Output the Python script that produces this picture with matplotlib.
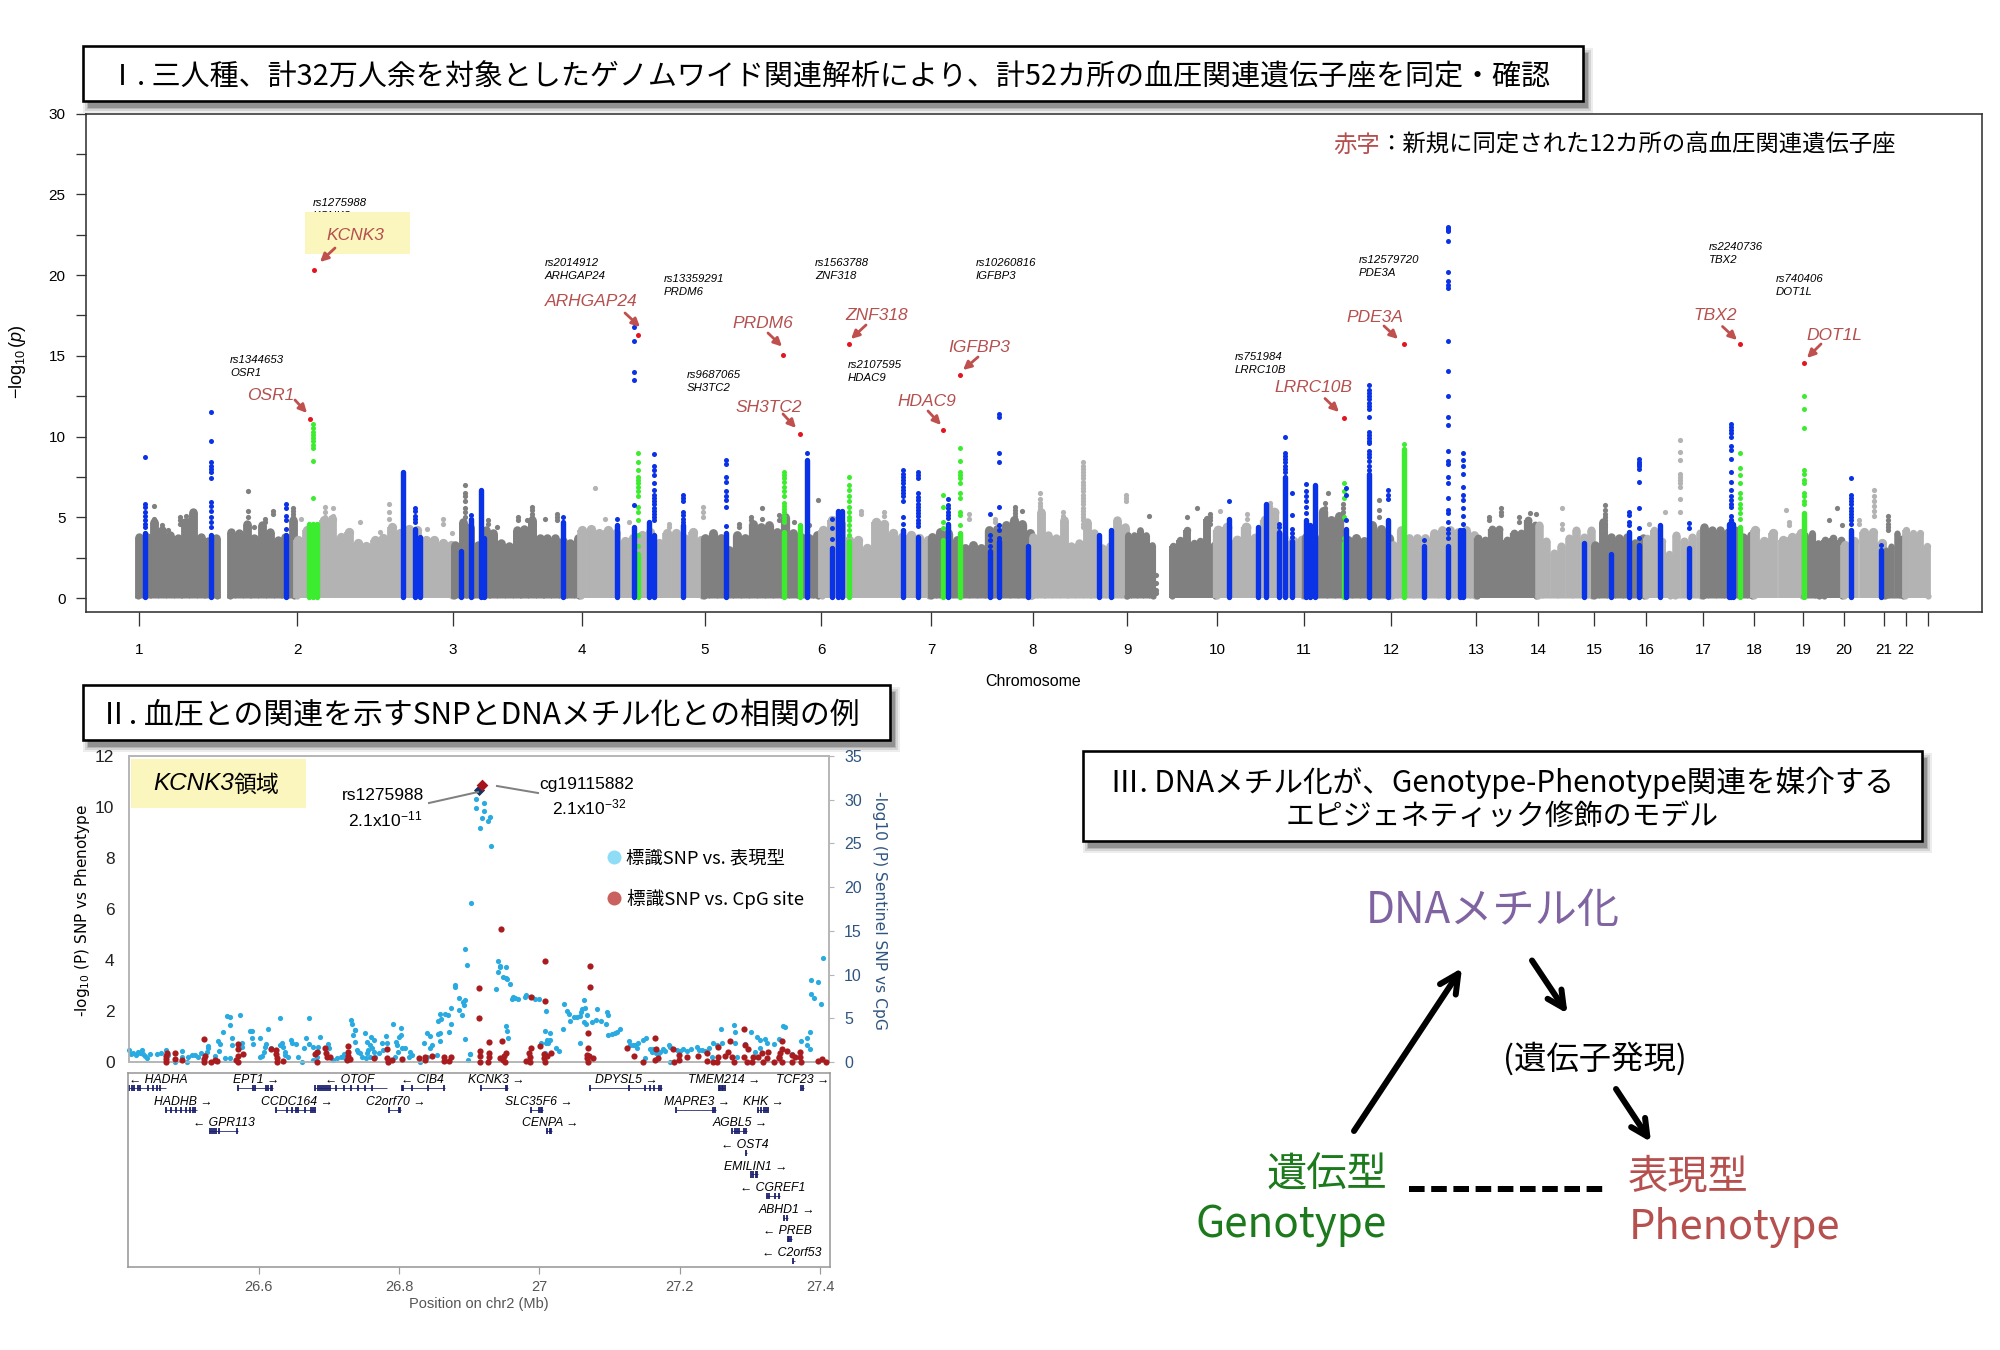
"""Blood pressure GWAS figure: Manhattan plot, KCNK3 regional plot and mediation model."""

import matplotlib
matplotlib.use("Agg")
import matplotlib.pyplot as plt
import numpy as np
from matplotlib.patches import Rectangle

LATIN = "Liberation Sans"
CJK = ["Noto Sans CJK JP", "DejaVu Sans"]

plt.rcParams["font.family"] = LATIN
plt.rcParams["mathtext.fontset"] = "custom"
plt.rcParams["mathtext.rm"] = "Liberation Sans"
plt.rcParams["mathtext.it"] = "Liberation Sans:italic"
plt.rcParams["mathtext.default"] = "regular"

# ---------- Manhattan data (x = cumulative genome position, plot units) ----------
chrom_labels = [str(i) for i in range(1, 23)]
chrom_ticks = [0, 158, 314, 443, 566, 682, 792, 894, 988, 1078, 1165, 1252, 1337, 1399,
               1455, 1507, 1564, 1615, 1664, 1705, 1745, 1767]
chrom_end = 1789

# envelope of the grey SNP cloud: (start, end, shade, top values)
seg_start = [-2, 90, 157, 314, 441, 564, 682, 791, 892, 987, 1032, 1077, 1165, 1252, 1337,
             1398, 1454, 1506, 1535, 1563, 1614, 1664, 1684, 1704, 1745, 1765]
seg_end = [79, 156, 314, 441, 564, 680, 791, 893, 988, 1015, 1077, 1165, 1252, 1337, 1398,
           1454, 1506, 1532, 1563, 1614, 1664, 1681, 1704, 1745, 1765, 1790]
seg_dark = [1, 1, 0, 1, 0, 1, 0, 1, 0, 1, 1, 0, 1, 0, 1, 0, 1, 0, 0, 1, 0, 1, 1, 0, 1, 0]
seg_tops = [
    [4.0, 4.0, 4.9, 4.4, 4.1, 3.9, 4.9, 5.5, 4.0, 3.7, 3.9],
    [4.3, 4.2, 4.8, 3.9, 4.7, 4.3, 3.8, 4.0, 5.0],
    [3.8, 4.4, 4.0, 5.0, 5.1, 4.0, 4.3, 3.6, 3.4, 3.8, 3.9, 4.6, 4.2, 4.5, 4.4, 3.8, 3.8, 3.6, 3.5],
    [3.5, 4.9, 4.6, 3.5, 4.4, 4.2, 3.6, 3.4, 4.4, 4.5, 5.0, 3.9, 3.9, 3.9, 3.7, 3.6, 3.9],
    [4.4, 4.5, 4.2, 4.4, 4.2, 3.7, 3.9, 4.1, 4.3, 3.6, 4.2, 4.2, 3.9, 4.3, 3.8],
    [3.9, 4.2, 3.9, 3.2, 4.1, 3.9, 4.8, 4.6, 4.7, 4.3, 5.2, 4.2, 4.0, 3.9, 4.1],
    [4.4, 5.0, 4.8, 3.8, 3.8, 3.3, 4.9, 4.8, 4.2, 4.0, 4.1, 3.9, 3.8],
    [4.0, 4.3, 4.2, 3.8, 3.3, 3.5, 3.3, 4.4, 4.5, 4.7, 5.0, 4.8, 4.2],
    [4.0, 5.5, 4.1, 3.9, 5.0, 3.4, 3.6, 4.9, 4.2, 3.3, 3.4, 5.0, 4.6],
    [4.1, 4.1, 4.4, 4.1, 3.5],
    [3.4, 3.8, 4.4, 3.6, 3.7, 5.1, 3.5],
    [4.4, 4.6, 3.8, 4.6, 3.9, 5.0, 5.5, 4.0, 3.7, 3.8],
    [4.0, 4.0, 5.6, 5.0, 5.3, 3.8, 3.9, 3.7, 4.7, 4.5, 3.9],
    [3.5, 4.4, 3.9, 3.9, 3.9, 4.2, 4.4, 4.4, 4.3, 4.4, 4.1],
    [3.9, 3.8, 4.5, 4.5, 3.8, 4.2, 4.2, 5.0, 4.7],
    [4.7, 3.7, 3.0, 3.4, 3.9, 4.4, 4.0, 4.4],
    [3.5, 4.9, 4.0, 3.9, 4.0, 3.6, 3.9],
    [3.9, 4.4, 3.7, 2.9],
    [4.1, 3.7, 4.0, 4.2],
    [4.6, 4.4, 4.4, 4.3, 4.4, 4.0, 4.1],
    [4.4, 3.7, 4.2, 3.8, 4.0, 4.2],
    [4.1, 4.2, 3.6],
    [3.8, 3.9, 3.8],
    [3.5, 3.7, 4.3, 4.3, 3.6],
    [3.2, 3.4, 4.2, 3.9],
    [4.4, 4.2, 4.2, 3.4],
]

# isolated grey SNPs standing above the cloud
light_pos = [944, 987, 901, 924, 1541, 1735, 186, 194, 250, 456, 1647, 1423, 1526, 162, 564, 1131, 1108, 1081,
             221, 241, 288, 304, 313, 466, 490, 530, 722, 745, 830, 856, 1510, 1650, 1720]
light_vals = [
    [8.4, 8.2, 8.0, 7.8, 7.6, 7.4, 7.2, 7.0, 6.8, 6.6, 6.4, 6.2, 6.0, 5.8, 5.6, 5.4, 5.2, 5.0, 4.8, 4.6, 4.4],
    [6.4, 6.2, 6.0], [6.5, 6.1, 5.9, 5.7, 5.5, 5.3, 5.1, 4.9], [5.3, 5.1, 4.9, 4.7, 4.5],
    [9.8, 9.05, 8.55, 7.7, 7.5, 7.3, 7.1, 6.9, 6.15, 5.3], [6.7, 6.3, 6.0, 5.7, 5.4, 5.1],
    [5.65, 5.35, 5.0, 4.8], [5.55, 5.1, 4.8], [5.85, 5.35, 4.9], [6.8], [5.45], [5.6, 4.6, 4.3], [5.35],
    [4.9], [5.65, 5.35, 5.0], [5.9, 5.7, 5.5, 5.3], [5.2, 4.9], [5.4],
    [4.7], [4.1], [4.3], [4.9, 4.6], [4.0], [4.9], [4.7], [4.6, 4.4], [5.4, 5.2], [5.3, 5.1], [5.2, 4.9],
    [4.9, 4.7], [4.6], [4.7, 4.5], [4.8, 4.6],
]
dark_pos = [109, 15, 326, 393, 679, 623, 640, 876, 883, 1240, 1204, 1186, 1189, 1362, 1466, 1749, 1690,
            1698, 1703, 1397, 1391, 1058, 1071, 1048, 1010, 1017,
            41, 47, 50, 23, 29, 115, 126, 134, 154, 349, 358, 379, 388, 406, 418, 600, 612, 655, 670, 1350, 1380]
dark_vals = [
    [6.6, 5.4, 5.0], [5.7, 4.9, 4.7], [7.0, 6.5, 6.3, 6.0, 5.6, 5.3, 5.0], [5.65, 5.45, 5.2, 5.0], [6.05],
    [5.55, 4.9], [5.15, 4.8], [5.65, 5.45, 5.25, 5.05, 4.85, 4.65], [5.4], [6.05, 5.45, 5.0],
    [5.85, 5.6, 5.3, 5.1, 4.9], [5.9, 5.6, 5.3, 5.0], [6.5], [5.55, 5.35, 5.15],
    [5.75, 5.45, 5.2, 5.0, 4.8, 4.6, 4.4, 4.1], [5.1, 4.8, 4.6, 4.4, 4.2], [4.8], [5.55], [4.55], [5.2], [5.25],
    [5.6], [5.2, 5.0, 4.8, 4.6], [5.0], [5.1], [1.4, 0.9, 0.5, 0.3],
    [5.0, 4.8, 4.6], [5.1], [4.8], [4.5, 4.3], [4.2], [4.4], [4.9, 4.7], [5.4, 5.2], [5.6, 5.4, 5.2, 5.0, 4.8],
    [4.8, 4.6], [4.4], [5.0, 4.8], [4.8], [4.9], [5.2, 5.0, 4.8], [4.6, 4.4], [5.0, 4.8], [4.7], [4.5], [5.0, 4.8],
    [5.0, 4.7],
]

# known loci (blue): position, solid column top, separate SNPs above it
blue_pos = [6, 72, 147, 264, 276, 281, 322, 332, 342, 345, 424, 478, 495, 510, 515, 544, 587, 668, 693, 699,
            703, 764, 779, 809, 851, 860, 889, 960, 972, 1090, 1119, 1127, 1140, 1146, 1153, 1167, 1171, 1176,
            1207, 1230, 1249, 1285, 1309, 1321, 1324, 1445, 1472, 1490, 1500, 1521, 1550, 1590, 1592, 1594,
            1712, 1742]
blue_tops = [4.0, 3.9, 3.9, 7.8, 4.3, 3.8, 2.9, 4.9, 6.7, 3.7, 4.7, 4.5, 4.4, 4.7, 3.9, 4.5, 4.0, 8.55, 3.1, 5.4,
             5.4, 4.2, 3.8, 4.6, 2.9, 3.5, 3.2, 3.9, 4.2, 4.9, 4.4, 5.85, 4.1, 7.5, 3.5, 4.8, 4.5, 7.0,
             4.3, 7.7, 4.8, 3.2, 3.2, 4.2, 4.2, 3.4, 2.7, 4.1, 3.3, 4.5, 3.1, 4.6, 4.8, 4.6,
             4.2, 3.0]
blue_dots = [
    [8.7, 5.85, 5.65, 5.35, 5.1, 4.8, 4.6, 4.4],
    [11.5, 9.7, 8.4, 8.2, 8.0, 7.8, 7.4, 5.95, 5.7, 5.4, 5.0, 4.7, 4.4],
    [5.85, 5.55, 5.1, 4.8, 4.3],
    [], [5.55, 5.4, 5.1, 4.9, 4.7], [], [], [5.15], [], [], [5.0], [4.9],
    [16.8, 15.9, 14.0, 13.5, 5.75], [],
    [8.9, 8.2, 7.9, 7.6, 7.1, 6.7, 6.4, 6.2, 6.0, 5.8, 5.6, 5.4, 5.2, 5.0, 4.8],
    [6.4, 6.2, 6.0, 5.35, 5.15, 4.9, 4.7],
    [8.55, 8.3, 7.5, 7.2, 6.6, 6.3, 6.05, 5.65, 4.45],
    [8.95], [4.9, 4.35, 3.65], [], [],
    [7.9, 7.7, 7.5, 7.3, 7.1, 6.9, 6.7, 6.5, 6.3, 6.0, 5.0, 4.6],
    [7.8, 7.6, 7.4, 6.5, 6.25, 6.05, 5.85, 5.65, 5.45, 5.25, 5.05, 4.85, 4.65, 4.45],
    [6.15, 5.75, 5.55, 5.35, 5.15, 4.95],
    [5.2, 3.9, 3.6, 3.2],
    [11.4, 11.2, 9.0, 8.4, 5.65, 4.5, 4.2, 3.7],
    [], [], [], [6.0], [], [], [4.6, 4.4],
    [9.95, 8.96, 8.8, 8.6, 8.4, 8.2, 8.0, 7.8],
    [6.5, 5.15, 4.3, 4.0, 3.8],
    [7.05, 6.6, 6.3, 6.0, 5.65, 5.25], [], [],
    [6.8, 6.4, 4.8],
    [13.2, 12.9, 12.7, 12.5, 12.3, 12.1, 11.9, 11.7, 11.2, 10.3, 10.1, 9.9, 9.7, 9.6, 9.1, 8.9, 8.7, 8.5, 8.2, 7.9],
    [6.7, 6.4, 6.1],
    [3.6],
    [23.0, 22.9, 22.8, 22.7, 22.1, 20.2, 19.6, 19.4, 19.2, 15.9, 14.05, 12.5, 11.2, 10.7, 9.1, 8.5, 8.3, 7.5, 7.1,
     6.2, 5.45, 5.25, 4.7, 4.3, 4.0, 3.7],
    [],
    [9.0, 8.55, 8.15, 7.7, 6.9, 6.4, 6.05, 5.55, 5.05, 4.6],
    [], [], [5.35, 5.15, 4.7, 4.5],
    [8.6, 8.45, 8.3, 8.15, 8.0, 7.2, 5.55, 4.35, 3.7],
    [], [4.65, 4.35], [],
    [10.8, 10.6, 10.4, 10.2, 10.0, 9.4, 9.15, 8.6, 7.8, 7.2, 6.7, 6.3, 6.05, 5.85, 5.65, 5.1],
    [],
    [7.4, 6.4, 6.2, 6.0, 5.8, 5.6, 5.4, 5.2, 5.0, 4.8, 4.6],
    [3.3],
]

# newly confirmed loci (green)
green_pos = [170, 174, 178, 499, 645, 661, 710, 804, 821, 1205, 1265, 1601, 1665]
green_tops = [4.6, 4.6, 4.6, 2.7, 4.1, 4.5, 3.5, 3.6, 4.0, 3.4, 9.2, 4.4, 5.25]
green_dots = [
    [], [10.8, 10.5, 10.3, 10.1, 9.9, 9.7, 9.5, 9.3, 8.5, 6.2], [],
    [9.0, 8.45, 7.9, 7.5, 7.3, 7.1, 6.9, 6.6, 6.3, 5.65, 5.35, 4.8, 3.9, 3.2],
    [7.8, 7.6, 7.4, 7.2, 6.9, 6.6, 6.3, 5.9, 5.7, 5.5, 5.3, 5.1, 4.9, 4.7],
    [],
    [7.5, 7.0, 6.7, 6.3, 6.0, 5.65, 5.35, 5.0, 4.8, 4.5, 4.2, 3.9],
    [6.4, 5.65, 4.7, 4.35],
    [9.3, 8.5, 7.8, 7.6, 7.4, 7.1, 6.5, 6.2, 5.35, 5.15, 4.5],
    [7.1, 6.6, 6.2, 5.0, 3.7],
    [9.55],
    [9.0, 8.05, 7.6, 7.1, 6.5, 6.2, 5.85, 5.55, 5.25, 4.9],
    [12.5, 11.7, 10.5, 7.9, 7.7, 7.3, 7.1, 6.5, 6.3, 6.0, 5.8],
]

# sentinel SNPs of the 12 new loci
red_pos = [175, 171, 499, 644, 710, 661, 804, 821, 1205, 1265, 1601, 1665]
red_vals = [20.3, 11.1, 16.3, 15.05, 15.7, 10.15, 10.4, 13.8, 11.15, 15.7, 15.7, 14.55]

# ---------- KCNK3 regional data ----------
pheno_x = [26.415, 26.418, 26.421, 26.424, 26.427, 26.430, 26.433, 26.435, 26.438, 26.441, 26.445, 26.455, 26.461,
           26.467, 26.471, 26.480, 26.491, 26.490, 26.497, 26.499, 26.504, 26.509, 26.513, 26.518, 26.526, 26.527,
           26.528, 26.523, 26.542, 26.545, 26.543, 26.538, 26.549, 26.554, 26.559, 26.559, 26.562, 26.562, 26.573,
           26.576, 26.576, 26.552, 26.559, 26.587, 26.590, 26.590, 26.592, 26.602, 26.613, 26.602, 26.605, 26.607,
           26.609, 26.611, 26.618, 26.630, 26.630, 26.633, 26.635, 26.637, 26.638, 26.642, 26.646, 26.647, 26.653,
           26.656, 26.661, 26.665, 26.667, 26.672, 26.671, 26.678, 26.684, 26.688, 26.685, 26.683, 26.699, 26.700,
           26.678, 26.706, 26.711, 26.718, 26.721, 26.723, 26.731, 26.733, 26.737, 26.734, 26.738, 26.738, 26.740,
           26.742, 26.745, 26.747, 26.751, 26.755, 26.760, 26.764, 26.759, 26.761, 26.756, 26.764, 26.754, 26.759,
           26.753, 26.766, 26.776, 26.781, 26.783, 26.778, 26.771, 26.792, 26.796, 26.800, 26.803, 26.803, 26.798,
           26.804, 26.809, 26.799, 26.795, 26.816, 26.818, 26.814, 26.830, 26.836, 26.840, 26.845, 26.847, 26.845,
           26.840, 26.854, 26.856, 26.859, 26.859, 26.856, 26.859, 26.860, 26.866, 26.870, 26.875, 26.875, 26.871,
           26.880, 26.880, 26.886, 26.886, 26.890, 26.892, 26.893, 26.894, 26.895, 26.902, 26.899,
           26.903, 26.895, 26.897, 26.910, 26.921, 26.910, 26.922, 26.918, 26.930, 26.927, 26.916, 26.932,
           26.902, 26.941, 26.945, 26.945, 26.953, 26.942, 26.949, 26.953, 26.955, 26.958, 26.938, 26.961, 26.963,
           26.966, 26.970, 26.980, 26.982, 26.990, 26.994, 27.000, 27.010, 27.008, 27.016, 27.015, 27.012, 27.013,
           27.010, 27.003, 26.953, 26.955, 26.956, 27.009, 27.024, 27.029, 27.034, 27.036, 27.040, 27.043, 27.044,
           27.050, 27.054, 27.058, 27.060, 27.062, 27.066, 27.064, 27.068, 27.064, 27.067, 27.059, 27.076, 27.082,
           27.083, 27.088, 27.095, 27.097, 27.098, 27.099, 27.104, 27.109, 27.112, 27.116, 27.129, 27.130, 27.134,
           27.137, 27.140, 27.142, 27.148, 27.153, 27.151, 27.158, 27.161, 27.163, 27.167, 27.170, 27.173, 27.177,
           27.180, 27.185, 27.187, 27.187, 27.197, 27.201, 27.206, 27.211, 27.217, 27.225, 27.228, 27.232, 27.237,
           27.243, 27.247, 27.249, 27.260, 27.261, 27.254, 27.278, 27.280, 27.280, 27.282, 27.294, 27.302, 27.311,
           27.316, 27.309, 27.316, 27.323, 27.325, 27.336, 27.342, 27.348, 27.351, 27.361, 27.374, 27.383, 27.387,
           27.382, 27.387, 27.389, 27.398, 27.389, 27.393, 27.402, 27.406]
pheno_y = [.47, .31, .37, .27, .41, .34, .47, .31, .24, .14, .31, .31, .34,
           .47, .27, .01, .43, .21, .01, .21, .27, .27, .21, .37, .41, .63,
           .54, .27, .84, .71, .43, .24, 1.19, 1.82, 1.78, 1.45, .93, .67, 1.84,
           .73, .60, .14, .14, 1.23, 1.22, .93, .69, .95, 1.31, .21, .24, .41,
           .60, .71, .54, 1.71, .67, .73, .58, .41, .27, .18, .86, .73, .71,
           .18, .01, .54, .95, 1.71, .69, .58, .60, .99, .41, .21, .71, .54,
           .08, .08, .14, .21, .31, .14, 1.65, 1.49, 1.25, 1.06, 1.25, .77, .47,
           .41, .34, .21, 1.15, .80, .97, .86, .67, .54, .47, .41, .34, .21,
           .14, .21, .73, 1.03, .73, .47, .34, 1.48, .80, .97, 1.35, 1.06, .67,
           .54, .54, .41, .21, .41, .27, .18, .01, .73, 1.12, 1.03, .67, .54,
           .21, .27, 1.10, 1.12, .84, 1.62, 1.88, 1.67, 1.87, 1.86, 1.49, 2.10, 1.19,
           3.02, 2.93, 2.50, 2.04, 1.84, 2.37, 2.24, 2.43, .90, .30, .08,
           6.23, 4.43, 3.79, 10.33, 10.16, 9.97, 9.84, 9.58, 9.61, 9.44, 9.18, 8.46,
           .30, 3.97, 3.78, 3.71, 3.71, 3.52, 3.32, 3.28, 3.24, 3.07, 2.85, 2.47, 2.54,
           2.50, 2.48, 2.54, 2.63, 2.54, 2.47, 2.47, 1.99, 1.23, 1.12, .86, .86, .76,
           .76, .76, 1.41, 1.23, .95, .34, .54, .43, 1.29, 2.26, 2.01, 1.87, 1.61,
           1.78, 1.75, 1.80, 1.97, 2.07, 2.10, 2.43, 1.84, 1.58, 1.48, .73, 1.56, 1.65,
           2.07, 1.61, 1.50, 1.95, 1.84, 1.07, 1.10, 1.12, 1.19, 1.29, .84, .67, .67,
           .67, .56, .73, .86, .95, .17, .50, .41, .50, .37, .31, .41, .51,
           .43, .67, .60, .01, .47, .44, .50, .44, .50, .60, .47, .47, .43,
           .54, .21, .76, 1.29, .73, .67, 1.46, 1.16, .73, .21, .69, 1.16, .99,
           .86, .38, .54, .90, .73, .69, .89, 1.41, 1.39, .31, .84, .95, 1.16,
           .67, .51, 3.20, 3.12, 2.67, 2.50, 2.27, 4.07]

cpg_x = [26.469, 26.468, 26.467, 26.468, 26.481, 26.481, 26.491, 26.522, 26.523, 26.522, 26.522, 26.532, 26.538,
         26.541, 26.570, 26.570, 26.570, 26.568, 26.571, 26.578, 26.617, 26.624, 26.624, 26.626, 26.626, 26.635,
         26.683, 26.680, 26.683, 26.695, 26.696, 26.697, 26.702, 26.727, 26.727, 26.727, 26.726, 26.730, 26.765,
         26.783, 26.783, 26.785, 26.790, 26.804, 26.828, 26.837, 26.837, 26.847, 26.864, 26.865, 26.871, 26.875,
         26.915, 26.915, 26.916, 26.916, 26.916, 26.928, 26.929, 26.928, 26.927, 26.947, 26.953, 26.950, 26.944,
         26.949, 26.951, 26.989, 26.986, 26.987, 26.982, 26.987, 27.001, 27.009, 26.946, 27.009, 26.988, 27.007,
         27.007, 27.011, 27.009, 27.017, 27.070, 27.073, 27.073, 27.070, 27.069, 27.072, 27.068, 27.077, 27.070,
         27.125, 27.136, 27.149, 27.166, 27.167, 27.170, 27.166, 27.192, 27.200, 27.200, 27.193, 27.212, 27.227,
         27.240, 27.240, 27.256, 27.256, 27.254, 27.249, 27.265, 27.273, 27.270, 27.275, 27.278, 27.293, 27.294,
         27.299, 27.292, 27.297, 27.306, 27.304, 27.312, 27.318, 27.327, 27.325, 27.320, 27.335, 27.342, 27.347,
         27.347, 27.344, 27.342, 27.347, 27.354, 27.361, 27.361, 27.366, 27.373, 27.372, 27.374, 27.399, 27.404,
         27.410]
cpg_y = [1.07, .69, .31, 0, 1.07, .31, .23, 2.63, .69, .31, 0, .04, .23,
         .11, 2.06, 1.45, .69, .23, .04, .88, 1.45, 1.37, .92, .42, .04, .11,
         1.18, .92, .04, 1.56, 1.07, .61, .61, 1.83, 1.18, .69, .23, .31, .42,
         1.45, .42, .04, .23, .31, .42, .61, .23, .69, .53, .11, .11, .61,
         8.44, 5.0, 1.26, .69, 0, 2.29, 1.07, .53, 0, 2.40, 1.07, .69, .42,
         .23, 0, 1.56, 1.07, .53, .11, .04, 1.87, 11.6, 15.2, 6.98, 7.40, .92,
         .42, .69, .04, .99, 3.28, 11.03, 8.55, 1.64, .80, .69, .42, .42, .04,
         1.64, .69, .04, 2.71, 1.45, .50, .23, 1.45, .80, .23, .04, .57, .69,
         .99, .15, 1.76, .53, .04, 0, .69, 2.40, 1.18, .61, 0, 3.74, 1.95,
         1.45, .53, .04, .53, .04, .61, .99, 1.18, .42, .04, .04, .61, 2.40,
         1.45, .99, .42, .04, 1.26, .80, .04, .61, 1.18, .61, .04, .15, .31,
         .04]

lead_snp = (26.914, 10.68)
lead_cpg = (26.918, 31.7)

# gene track
gene_names = ["HADHA", "EPT1", "OTOF", "CIB4", "KCNK3", "DPYSL5", "TMEM214", "TCF23",
              "HADHB", "CCDC164", "C2orf70", "SLC35F6", "MAPRE3", "KHK",
              "GPR113", "CENPA", "AGBL5", "OST4", "EMILIN1", "CGREF1", "ABHD1", "PREB", "C2orf53"]
gene_rows = [0, 0, 0, 0, 0, 0, 0, 0, 1, 1, 1, 1, 1, 1, 2, 2, 2, 3, 4, 5, 6, 7, 8]
gene_start = [26.415, 26.569, 26.680, 26.804, 26.916, 27.071, 27.255, 27.372,
              26.467, 26.624, 26.785, 26.987, 27.194, 27.310,
              26.530, 27.010, 27.274, 27.293, 27.301, 27.323, 27.347, 27.353, 27.360]
gene_end = [26.468, 26.620, 26.783, 26.865, 26.955, 27.175, 27.265, 27.377,
            26.513, 26.681, 26.803, 27.005, 27.251, 27.326,
            26.570, 27.018, 27.296, 27.296, 27.311, 27.343, 27.354, 27.360, 27.364]
gene_label = [26.457, 26.596, 26.730, 26.833, 26.938, 27.124, 27.263, 27.375,
              26.492, 26.654, 26.796, 26.999, 27.224, 27.319,
              26.550, 27.016, 27.286, 27.293, 27.308, 27.332, 27.352, 27.354, 27.360]
gene_forward = [0, 1, 0, 0, 1, 1, 1, 1, 1, 1, 1, 1, 1, 1, 0, 1, 1, 0, 1, 0, 1, 0, 0]
gene_exons = [
    [26.416, 26.419, 26.423, 26.428, 26.431, 26.442, 26.450, 26.455, 26.460],
    [26.570, 26.592, 26.595, 26.611, 26.614, 26.617, 26.619],
    [26.681, 26.684, 26.687, 26.690, 26.693, 26.696, 26.699, 26.702, 26.711, 26.721, 26.731, 26.741, 26.751, 26.761],
    [26.805, 26.806, 26.818, 26.842, 26.864],
    [26.917, 26.953, 26.954],
    [27.072, 27.127, 27.151, 27.157, 27.163, 27.170, 27.173],
    [27.256, 27.258, 27.260, 27.262, 27.264],
    [27.373, 27.376],
    [26.468, 26.475, 26.482, 26.490, 26.496, 26.502, 26.506, 26.510],
    [26.625, 26.640, 26.647, 26.654, 26.656, 26.666, 26.674, 26.678, 26.680],
    [26.786, 26.800, 26.802],
    [26.988, 27.000, 27.002, 27.004],
    [27.195, 27.248, 27.250],
    [27.311, 27.316, 27.320, 27.323, 27.325],
    [26.531, 26.534, 26.537, 26.540, 26.543, 26.569],
    [27.011, 27.015, 27.017],
    [27.275, 27.278, 27.281, 27.284, 27.292, 27.295],
    [27.295],
    [27.302, 27.305, 27.308, 27.310],
    [27.324, 27.327, 27.335, 27.342],
    [27.348, 27.353],
    [27.354, 27.356, 27.359],
    [27.362],
]

# rs id + gene annotations of the Manhattan panel
rs_names = ["rs1344653", "rs2014912", "rs13359291", "rs1563788", "rs9687065", "rs2107595", "rs10260816",
            "rs751984", "rs12579720", "rs2240736", "rs740406"]
rs_genes = ["OSR1", "ARHGAP24", "PRDM6", "ZNF318", "SH3TC2", "HDAC9", "IGFBP3", "LRRC10B", "PDE3A", "TBX2", "DOT1L"]
new_genes = ["KCNK3", "OSR1", "ARHGAP24", "PRDM6", "ZNF318", "SH3TC2", "HDAC9", "IGFBP3", "LRRC10B", "PDE3A",
             "TBX2", "DOT1L"]

# ---------- colours ----------
DARK = "#808080"
LIGHT = "#b3b3b3"
BLUE = "#0a32e6"
GREEN = "#3cec2e"
RED = "#e6141e"
LOCUS_RED = "#b5504f"
PANEL_BLUE = "#2f5580"
FRAME_GREY = "#b5b5b5"
YELLOW = "#fbf6bd"

W, H = 2000, 1350
fig = plt.figure(figsize=(W / 100, H / 100), dpi=100, facecolor="white")


def px(v):
    """Pixels to points."""
    return v * 0.72


def axes_px(x0, y0, x1, y1, **kw):
    return fig.add_axes([x0 / W, 1 - y1 / H, (x1 - x0) / W, (y1 - y0) / H], **kw)


def draw_column(ax, pos, top, dots, color, width=5.4, z=3):
    ax.vlines(pos, 0.05, top, color=color, lw=px(width), capstyle="round", zorder=z)
    if dots:
        ax.scatter([pos] * len(dots), dots, s=13, color=color, linewidths=0, zorder=z)


def draw_manhattan():
    ax = axes_px(85.5, 113.5, 1982, 612)
    ax.set_xlim(85.5 - 139, 1982 - 139)
    ax.set_ylim(-14 / 16.15, 30)

    for start, end, dark, tops in zip(seg_start, seg_end, seg_dark, seg_tops):
        color = DARK if dark else LIGHT
        xs = np.linspace(start + 2, end - 2, len(tops))
        tops = np.array(tops) - 0.2
        step = (end - start) / len(tops)
        ax.vlines(xs, 0, tops, color=color, lw=px(step + 1.5), zorder=1)
        ax.scatter(xs, tops, s=px(step + 1) ** 2, color=color, linewidths=0, zorder=1)
        ax.scatter([start + 1, end - 1], [0.1, 0.1], s=20, color=color, linewidths=0, zorder=1)

    for pos, vals in zip(light_pos, light_vals):
        ax.scatter([pos] * len(vals), vals, s=14, color=LIGHT, linewidths=0, zorder=1)
    for pos, vals in zip(dark_pos, dark_vals):
        ax.scatter([pos] * len(vals), vals, s=14, color=DARK, linewidths=0, zorder=1)

    for pos, top, dots in zip(blue_pos, blue_tops, blue_dots):
        draw_column(ax, pos, top, dots, BLUE)
    for pos, top, dots in zip(green_pos, green_tops, green_dots):
        draw_column(ax, pos, top, dots, GREEN, z=2.5)
    ax.scatter(red_pos, red_vals, s=13, color=RED, linewidths=0, zorder=4)

    ax.set_yticks(range(0, 31, 5))
    ax.set_yticks(np.arange(0, 30, 2.5), minor=True)
    ax.set_xticks(chrom_ticks + [chrom_end])
    ax.set_xticklabels(chrom_labels + [""])
    ax.tick_params(axis="y", which="both", length=px(10), width=px(1.3), labelsize=11, pad=px(10), color="#333333")
    ax.tick_params(axis="x", length=px(14), width=px(1.3), labelsize=11, pad=px(17), color="#333333")
    for spine in ax.spines.values():
        spine.set_linewidth(px(1.6))
        spine.set_color("#333333")
    fig.text(1033 / W, 1 - 681 / H, "Chromosome", ha="center", va="center", fontsize=11.5)
    fig.text(17 / W, 1 - 362 / H, r"$-\log_{10}(\mathit{p})$", rotation=90, ha="center", va="center", fontsize=13)


def draw_regional():
    ax = axes_px(128.5, 756, 829, 1062)
    ax.set_xlim(26.414, 27.414)
    ax.set_ylim(0, 12)
    ax.set_xticks([])
    ax.set_yticks(range(0, 13, 2))
    ax.tick_params(axis="y", length=0, labelsize=12.5, pad=px(14), labelcolor="#222222")
    ax.scatter(pheno_x, pheno_y, s=14, color="#29abe2", linewidths=0, zorder=3, clip_on=False)
    ax.scatter(*lead_snp, s=32, marker="D", color="#16305f", linewidths=0, zorder=5)

    ax2 = ax.twinx()
    ax2.set_ylim(0, 35)
    ax2.set_yticks(range(0, 36, 5))
    ax2.tick_params(axis="y", length=px(5), labelsize=11.5, pad=px(10), labelcolor=PANEL_BLUE, color=FRAME_GREY)
    ax2.scatter(cpg_x, cpg_y, s=20, color="#a81c1f", linewidths=0, zorder=4, clip_on=False)
    ax2.scatter(*lead_cpg, s=36, marker="D", color="#a8141c", linewidths=0, zorder=6)
    for a in (ax, ax2):
        for spine in a.spines.values():
            spine.set_linewidth(px(1.6))
            spine.set_color(FRAME_GREY)

    fig.text(83 / W, 1 - 910 / H, "-log$_{10}$ (P) SNP vs Phenotype", rotation=90, ha="center", va="center",
             fontsize=11, family="DejaVu Sans")
    fig.text(880 / W, 1 - 910 / H, "-log10 (P) Sentinel SNP vs CpG", rotation=270, ha="center", va="center",
             fontsize=11.2, family="DejaVu Sans", color=PANEL_BLUE)

    track = axes_px(128, 1072.7, 830, 1267)
    track.set_xlim(26.414, 27.414)
    track.set_ylim(8.28, -0.71)
    track.set_yticks([])
    track.set_xticks([26.6, 26.8, 27.0, 27.2, 27.4])
    track.set_xticklabels(["26.6", "26.8", "27", "27.2", "27.4"])
    track.tick_params(axis="x", length=px(7), width=px(1.2), color="#999999", labelsize=10.5, labelcolor="#555555", pad=px(6))
    track.set_xlabel("Position on chr2 (Mb)", fontsize=10.5, color="#555555", labelpad=px(3))
    for spine in track.spines.values():
        spine.set_linewidth(px(1.6))
        spine.set_color("#999999")
    for name, row, start, end, label, fwd, exons in zip(gene_names, gene_rows, gene_start, gene_end, gene_label,
                                                         gene_forward, gene_exons):
        track.hlines(row, start, end, color="#4a4f8c", lw=px(1))
        track.vlines(exons, row - 0.14, row + 0.14, color="#1a1f6e", lw=px(1.8))
        text = f"{name} \u2192" if fwd else f"\u2190 {name}"
        track.text(label, row - 0.37, text, ha="center", va="center", style="italic", fontsize=8.8)


def title_box(ov, x0, y0, x1, y1):
    for grow, alpha in zip([5, 3, 1, 0], [0.07, 0.1, 0.14, 0.2]):
        ov.add_patch(Rectangle((x0 + 5 - grow, y0 + 7 - grow), x1 - x0 + 2 * grow, y1 - y0 + 2 * grow,
                               color="black", alpha=alpha, lw=0, zorder=1))
    ov.add_patch(Rectangle((x0, y0), x1 - x0, y1 - y0, facecolor="white", edgecolor="black", lw=px(2.6), zorder=2))


def arrow(ov, start, end, color, lw, scale, style="-|>"):
    ov.annotate("", xy=end, xytext=start, zorder=8,
                arrowprops=dict(arrowstyle=style, color=color, lw=lw, mutation_scale=scale, shrinkA=0, shrinkB=0))


def draw_overlay():
    ov = fig.add_axes([0, 0, 1, 1], facecolor="none")
    ov.set_xlim(0, W)
    ov.set_ylim(H, 0)
    ov.axis("off")

    # panel headers
    title_box(ov, 83, 46, 1583, 101)
    ov.text(829, 77, "\u2160. 三人種、計32万人余を対象としたゲノムワイド関連解析により、計52カ所の血圧関連遺伝子座を同定・確認",
            ha="center", va="center", fontsize=20.9, family=CJK, zorder=3)
    title_box(ov, 83, 685, 890, 740)
    ov.text(479, 715, "\u2161. 血圧との関連を示すSNPとDNAメチル化との相関の例", ha="center", va="center",
            fontsize=21.5, family=CJK, zorder=3)
    title_box(ov, 1083, 751, 1922, 841)
    ov.text(1502, 783, "\u2162. DNAメチル化が、Genotype-Phenotype関連を媒介する", ha="center", va="center",
            fontsize=21.3, family=CJK, zorder=3)
    ov.text(1502, 817, "エピジェネティック修飾のモデル", ha="center", va="center", fontsize=20.8, family=CJK, zorder=3)

    ov.text(1333, 145, "赤字", color=LOCUS_RED, ha="left", va="center", fontsize=16.8, family=CJK)
    ov.text(1379, 145, "：新規に同定された12カ所の高血圧関連遺伝子座", ha="left", va="center", fontsize=16.8, family=CJK)

    # rs ids
    rs_x = [230, 545, 664, 815, 687, 848, 976, 1235, 1359, 1708.5, 1775.5]
    rs_y = [360, 263, 279, 263, 375, 365, 263, 357, 260, 247, 279]
    for name, gene, x, y in zip(rs_names, rs_genes, rs_x, rs_y):
        ov.text(x, y, name, style="italic", fontsize=8.2, ha="left", va="center")
        ov.text(x, y + 13, gene, style="italic", fontsize=8.2, ha="left", va="center")
    ov.text(313, 203, "rs1275988", style="italic", fontsize=8.2, ha="left", va="center")
    ov.text(313, 216, "KCNK3", style="italic", fontsize=8.2, ha="left", va="center", zorder=1)
    ov.add_patch(Rectangle((305, 212), 105, 42, color=YELLOW, lw=0, zorder=2))

    # new loci labels and arrows
    lab_x = [326, 247, 545, 732, 845, 736, 897, 948, 1274, 1346, 1693, 1806]
    lab_y = [235.5, 395.5, 301, 323, 316, 407, 401, 347, 387, 317, 316, 335]
    arrow_from = [(335, 248), (295, 400), (625, 313), (768, 333), (866, 325), (783, 414), (928, 411), (978, 357),
                  (1325, 398.5), (1384, 326), (1722.5, 326.5), (1821, 344)]
    arrow_to = [(320, 262), (307, 413), (640, 327), (782, 346.5), (851, 339), (796, 428), (941, 425), (963, 370),
                (1339, 412), (1398, 339), (1737, 340), (1807, 358)]
    for gene, x, y, a, b in zip(new_genes, lab_x, lab_y, arrow_from, arrow_to):
        ov.text(x, y, gene, color=LOCUS_RED, style="italic", fontsize=12.5, ha="left", va="center", zorder=5)
        arrow(ov, a, b, "#c0504d", 2, 12)

    # regional panel annotations
    ov.add_patch(Rectangle((131, 759), 175, 49, color=YELLOW, lw=0, zorder=2))
    ov.text(153, 784, "KCNK3", style="italic", fontsize=17.5, ha="left", va="center", zorder=3)
    ov.text(234, 785, "領域", fontsize=16.5, ha="left", va="center", family=CJK, zorder=3)
    ov.text(383, 796, "rs1275988", fontsize=12.5, ha="center", va="center")
    ov.text(385, 819, "2.1x10$^{-11}$", fontsize=12.5, ha="center", va="center")
    ov.text(587, 784, "cg19115882", fontsize=12.5, ha="center", va="center")
    ov.text(589, 807, "2.1x10$^{-32}$", fontsize=12.5, ha="center", va="center")
    ov.plot([429, 478], [803, 792], color="#808080", lw=px(2))
    ov.plot([497, 538], [786, 793], color="#808080", lw=px(2))
    ov.scatter([614], [857], s=px(14) ** 2, color="#8fdcf7", linewidths=0)
    ov.scatter([614], [898], s=px(14) ** 2, color="#c9615e", linewidths=0)
    ov.text(626, 858, "標識SNP vs. 表現型", fontsize=13.2, ha="left", va="center", family=CJK)
    ov.text(627, 899, "標識SNP vs. CpG site", fontsize=13.4, ha="left", va="center", family=CJK)

    # mediation model
    ov.text(1493, 911, "DNAメチル化", color="#8064a2", fontsize=30.4, ha="center", va="center", family=CJK)
    ov.text(1595, 1059, "(遺伝子発現)", fontsize=23.3, ha="center", va="center", family=CJK)
    ov.text(1387, 1175, "遺伝型", color="#1c7a1c", fontsize=29, ha="right", va="center", family=CJK)
    ov.text(1387, 1225, "Genotype", color="#1c7a1c", fontsize=30.4, ha="right", va="center", family=CJK)
    ov.text(1628, 1177, "表現型", color=LOCUS_RED, fontsize=29, ha="left", va="center", family=CJK)
    ov.text(1629, 1227, "Phenotype", color=LOCUS_RED, fontsize=30, ha="left", va="center", family=CJK)
    arrow(ov, (1354, 1131), (1462, 968), "black", px(6), 34, "->")
    arrow(ov, (1532, 960.5), (1567.5, 1013.6), "black", px(6), 30, "->")
    arrow(ov, (1616, 1089), (1651, 1142), "black", px(6), 30, "->")
    ov.plot([1408.5, 1605], [1189, 1189], color="black", lw=px(6), ls=(0, (2.6, 1.1)))


draw_manhattan()
draw_regional()
draw_overlay()
fig.savefig("out.png", dpi=100)
